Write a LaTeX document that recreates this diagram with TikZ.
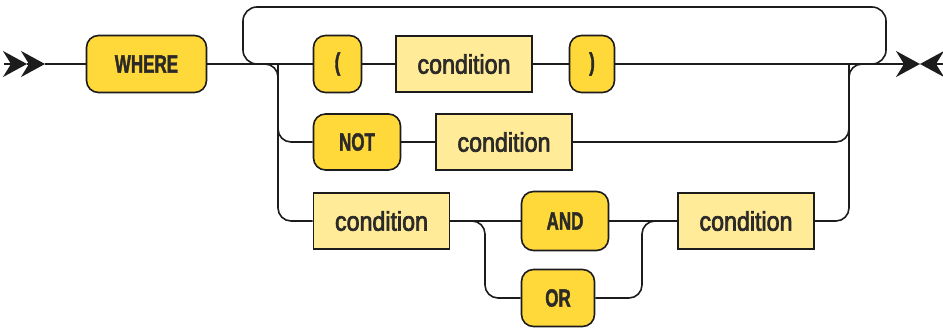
\documentclass[tikz,border=0pt]{standalone}
\usepackage{fontspec}
\usetikzlibrary{arrows.meta}
\newfontfamily\keyfont[FakeStretch=0.68,FakeBold=1.5]{Liberation Sans Bold}
\newfontfamily\condfont[FakeStretch=0.86,FakeBold=2.5]{Liberation Sans}
\definecolor{keyfill}{HTML}{FFD83A}
\definecolor{condfill}{HTML}{FFEB98}
\definecolor{ink}{HTML}{1C1C1C}
\definecolor{textink}{HTML}{2B2A28}

\begin{document}
\begin{tikzpicture}[
	x=1pt, y=-1pt,
	rail/.style={draw=ink, line width=1.6pt, rounded corners=13pt},
	railtip/.style={-{Stealth[length=24pt,width=26pt,inset=8pt]}},
	keyword/.style={draw=ink, line width=1.6pt, fill=keyfill, rounded corners=12pt,
		inner sep=0pt, text=textink, font=\keyfont\fontsize{25}{26}\selectfont},
	nonterminal/.style={draw=ink, line width=1.6pt, fill=condfill, inner sep=0pt,
		minimum width=136pt, minimum height=56pt, text=textink,
		font=\condfont\fontsize{27}{28}\selectfont}]
\useasboundingbox (0,0) rectangle (943,330);

\node[keyword, minimum width=120pt, minimum height=57pt] (where) at (146.5,64) {WHERE};
\node[keyword, minimum width=48pt, minimum height=57pt] (lpar) at (337.5,64) {(};
\node[nonterminal] (cond a) at (464,64) {condition};
\node[keyword, minimum width=45pt, minimum height=57pt] (rpar) at (592,64) {)};
\node[keyword, minimum width=87pt, minimum height=56pt] (not) at (357,142) {NOT};
\node[nonterminal] (cond b) at (504,142) {condition};
\node[nonterminal] (cond c) at (381.5,221) {condition};
\node[keyword, minimum width=87pt, minimum height=59pt] (and) at (565,221) {AND};
\node[keyword, minimum width=73pt, minimum height=57pt] (or) at (558,298) {OR};
\node[nonterminal] (cond d) at (746,221) {condition};

\coordinate (in) at (4,64);
\coordinate (in mid) at (27,64);
\coordinate (in tip) at (45,64);
\coordinate (fork) at (278,64);
\coordinate (loop west) at (243,64);
\coordinate (loop east) at (886,7);
\coordinate (join) at (849,64);
\coordinate (out) at (920,64);
\coordinate (out back) at (943,64);
\coordinate (split) at (485,221);
\coordinate (merge) at (642,221);

% entry and exit
\draw[rail, railtip] (in) -- (in mid);
\draw[rail, railtip] (in mid) -- (in tip);
\draw[rail] (in tip) -- (where.west);
\draw[rail, railtip] (rpar.east) -- (out);
\draw[rail, railtip] (out back) -- (out);

% first row and the way back
\draw[rail] (where.east) -- (lpar.west);
\draw[rail] (lpar) -- (cond a);
\draw[rail] (cond a) -- (rpar);
\draw[rail, rounded corners=14pt] ([xshift=20pt]join) -| (loop east) -| (loop west) -- ++(20,0);

% second and third row
\draw[rail] (where.east) -| (fork |- cond c) -- (cond c.west);
\draw[rail] (fork) |- (not.west);
\draw[rail] (not) -- (cond b);
\draw[rail] (cond b.east) -| (join);
\draw[rail] (cond c) -- (and);
\draw[rail] (cond c.east) -| (split |- or) -- (or.west);
\draw[rail] (and) -- (cond d);
\draw[rail] (or.east) -| (merge) -- (cond d.west);
\draw[rail] (cond d.east) -| (join) -- ++(20,0);
\end{tikzpicture}
\end{document}
